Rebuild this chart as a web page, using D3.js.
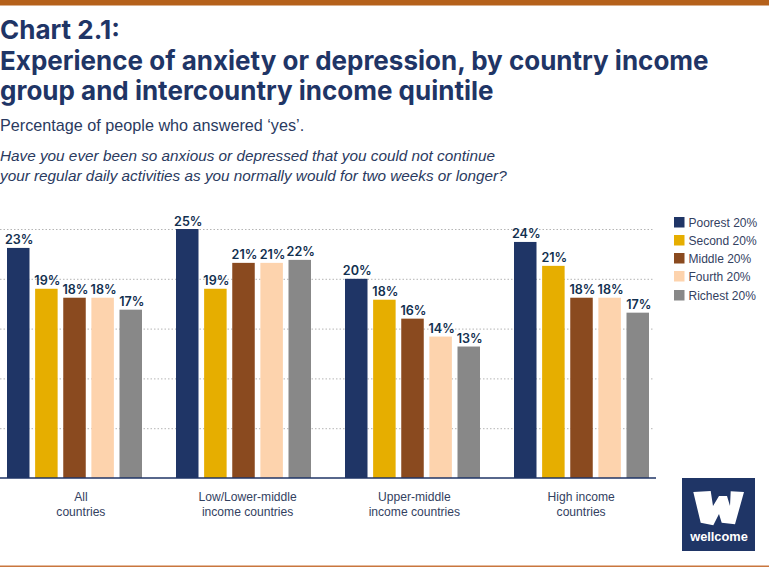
<!DOCTYPE html>
<html>
<head>
<meta charset="utf-8">
<script src="https://cdn.jsdelivr.net/npm/d3@7"></script>
<style>
body { margin:0; background:#fff; }
svg { display:block; }
.title { font-family:Inter, sans-serif; font-weight:700; font-size:26px; fill:#1f3566; }
.sub { font-family:"Liberation Sans", sans-serif; font-size:16.2px; fill:#2a3a60; }
.question { font-size:15.3px; font-style:italic; }
.cat { font-family:"Liberation Sans", sans-serif; font-size:12.1px; fill:#33415f; }
.legend-text { font-family:"Liberation Sans", sans-serif; font-size:12px; fill:#33415f; }
.val { font-family:Inter, sans-serif; font-weight:600; font-size:12.6px; fill:#12304f; text-anchor:middle; }
</style>
</head>
<body>
<div id="chart"></div>
<script>
// data
var categories = [["All", "countries"], ["Low/Lower-middle", "income countries"], ["Upper-middle", "income countries"], ["High income", "countries"]]
var quintiles = ["Poorest 20%", "Second 20%", "Middle 20%", "Fourth 20%", "Richest 20%"]
var colours = ["#1f3566", "#e6ae00", "#8a4a1f", "#fdd3ad", "#888888"]
var poorest = [23.1, 25, 20, 23.7]
var second = [19, 19, 17.9, 21.3]
var middle = [18.1, 21.6, 16, 18.1]
var fourth = [18.1, 21.6, 14.2, 18.1]
var richest = [16.9, 21.9, 13.2, 16.6]
var labels = [
    ["23%", "19%", "18%", "18%", "17%"],
    ["25%", "19%", "21%", "21%", "22%"],
    ["20%", "18%", "16%", "14%", "13%"],
    ["24%", "21%", "18%", "18%", "17%"]
]
var series = [poorest, second, middle, fourth, richest]
var gridTicks = [5, 10, 15, 20, 25]

var titleLines = ["Chart 2.1:", "Experience of anxiety or depression, by country income", "group and intercountry income quintile"]
var questionLines = ["Have you ever been so anxious or depressed that you could not continue", "your regular daily activities as you normally would for two weeks or longer?"]

var width = 769, height = 568

var svg = d3.select("#chart").append("svg")
    .attr("width", width)
    .attr("height", height)

// top and bottom rules
svg.append("rect").attr("x", 0).attr("y", 0).attr("width", width).attr("height", 5.5).attr("fill", "#b5611b")
svg.append("rect").attr("x", 0).attr("y", 565.5).attr("width", width).attr("height", 1.5).attr("fill", "#c9763e")

// headings
svg.selectAll(".title").data(titleLines).join("text")
    .attr("class", "title")
    .attr("x", 0)
    .attr("y", function(d, i) { return 39 + i * 30.5 })
    .text(function(d) { return d })

svg.append("text").attr("class", "sub").attr("x", 0).attr("y", 131)
    .text("Percentage of people who answered ‘yes’.")

svg.selectAll(".question").data(questionLines).join("text")
    .attr("class", "sub question")
    .attr("x", 0)
    .attr("y", function(d, i) { return 161 + i * 19.5 })
    .text(function(d) { return d })

// scales
var x0 = d3.scaleBand()
    .domain(d3.range(categories.length))
    .range([-10, 666])

var x1 = d3.scaleBand()
    .domain(d3.range(quintiles.length))
    .range([17, 152])
    .paddingInner(0.2)
    .paddingOuter(0)

// category labels sit on a slightly tighter spacing than the bars
var xCat = d3.scaleBand()
    .domain(d3.range(categories.length))
    .range([-2.5, 664.5])

var y = d3.scaleLinear()
    .domain([0, 25])
    .range([478, 229])

// dotted grid
var grid = svg.append("g")
    .call(d3.axisRight(y).tickValues(gridTicks).tickSize(654).tickFormat(""))
grid.select(".domain").remove()
grid.selectAll("line")
    .attr("stroke", "#b5b5b5")
    .attr("stroke-width", 1)
    .attr("stroke-dasharray", "1.5,2")

// bars
var group = svg.selectAll(".group")
    .data(categories)
    .join("g")
        .attr("class", "group")
        .attr("transform", function(d, i) { return "translate(" + x0(i) + ",0)" })

group.each(function(c, gi) {
    var g = d3.select(this)
    g.selectAll("rect")
        .data(series.map(function(s) { return s[gi] }))
        .join("rect")
            .attr("x", function(d, i) { return x1(i) })
            .attr("width", x1.bandwidth())
            .attr("y", function(d) { return y(d) })
            .attr("height", function(d) { return y(0) - y(d) })
            .attr("fill", function(d, i) { return colours[i] })
    g.selectAll(".val")
        .data(labels[gi])
        .join("text")
            .attr("class", "val")
            .attr("x", function(d, i) { return x1(i) + x1.bandwidth() / 2 + 1 })
            .attr("y", function(d, i) { return y(series[i][gi]) - 3.5 })
            .text(function(d) { return d })
})

// baseline and category labels
svg.append("line")
    .attr("x1", 0).attr("x2", 656)
    .attr("y1", y(0)).attr("y2", y(0))
    .attr("stroke", "#1f3566")
    .attr("stroke-width", 1.5)

categories.forEach(function(lines, i) {
    svg.selectAll(".cat" + i).data(lines).join("text")
        .attr("class", "cat cat" + i)
        .attr("x", xCat(i) + xCat.bandwidth() / 2)
        .attr("y", function(d, j) { return 501 + j * 14.5 })
        .attr("text-anchor", "middle")
        .text(function(d) { return d })
})

// legend
var legendY = [222, 240, 258, 276, 295]
var legend = svg.selectAll(".legend")
    .data(quintiles)
    .join("g")
        .attr("class", "legend")
        .attr("transform", function(d, i) { return "translate(674," + legendY[i] + ")" })
legend.append("rect")
    .attr("x", 0).attr("y", -5)
    .attr("width", 10.5).attr("height", 10.5)
    .attr("fill", function(d, i) { return colours[i] })
legend.append("text")
    .attr("class", "legend-text")
    .attr("x", 14.5)
    .attr("y", 4.5)
    .text(function(d) { return d })

// wellcome logo
var logo = svg.append("g").attr("transform", "translate(682,478)")
logo.append("rect").attr("width", 73).attr("height", 73).attr("fill", "#1f3566")
logo.append("path")
    .attr("fill", "#fff")
    .attr("d", "M11.3,14 L28.7,13 L31,28 L37,18 L45,18 L48,28 L48.7,13.3 L62,14 L53,46.3 L39.7,44.7 L37,36 L31.3,47.3 L18.7,44.7 Z")
logo.append("text")
    .attr("x", 37).attr("y", 63)
    .attr("text-anchor", "middle")
    .style("font-family", "'Liberation Sans', sans-serif")
    .style("font-weight", 700)
    .style("font-size", "12.8px")
    .attr("fill", "#fff")
    .text("wellcome")
</script>
</body>
</html>
